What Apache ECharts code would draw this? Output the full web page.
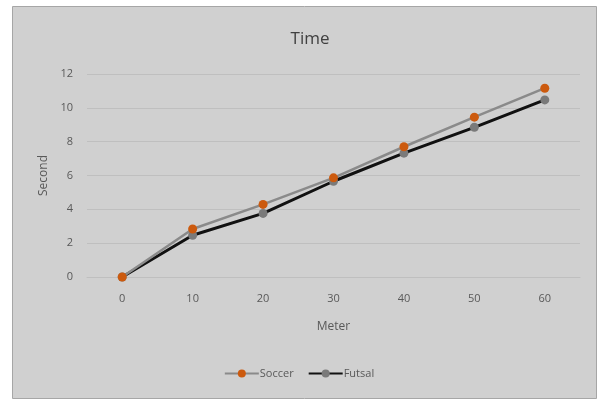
<!DOCTYPE html>
<html>
<head>
<meta charset="utf-8">
<script src="https://cdn.jsdelivr.net/npm/echarts@6/dist/echarts.min.js"></script>
<style>
  html, body { margin: 0; padding: 0; background: #ffffff; }
  #chart { width: 598px; height: 401px; }
</style>
</head>
<body>
<div id="chart"></div>
<script>
// Sprint times over distance
const meters = ['0', '10', '20', '30', '40', '50', '60'];
const soccer = [0, 2.84, 4.29, 5.86, 7.7, 9.45, 11.16];
const futsal = [0, 2.47, 3.76, 5.66, 7.32, 8.85, 10.47];
const yTicks = [0, 2, 4, 6, 8, 10, 12];

const labelFont = '"Open Sans", "Liberation Sans", sans-serif';
const textGray = '#595959';

const chart = echarts.init(document.getElementById('chart'), null, { renderer: 'canvas' });

chart.setOption({
  backgroundColor: '#ffffff',
  animation: false,
  graphic: [{
    type: 'rect',
    z: -10,
    shape: { x: 12.5, y: 6.5, width: 584, height: 392 },
    style: { fill: '#d0d0d0', stroke: '#a6a6a6', lineWidth: 1 }
  }],
  title: {
    text: 'Time',
    left: 305,
    top: 26,
    textAlign: 'center',
    textStyle: { fontFamily: labelFont, fontSize: 17, fontWeight: 'normal', color: '#404040' }
  },
  legend: {
    bottom: 17,
    left: 'center',
    itemWidth: 34,
    itemHeight: 10,
    itemGap: 14,
    textStyle: { fontFamily: labelFont, fontSize: 11, color: textGray, padding: [0, 0, 0, -4] },
    data: [
      { name: 'Soccer' },
      { name: 'Futsal' }
    ]
  },
  grid: { left: 87, right: 18, top: 74, bottom: 124, containLabel: false },
  xAxis: {
    type: 'category',
    data: meters,
    boundaryGap: true,
    name: 'Meter',
    nameLocation: 'middle',
    nameGap: 44,
    nameTextStyle: { fontFamily: labelFont, fontSize: 12, color: textGray },
    axisLine: { show: true, lineStyle: { color: '#bfbfbf', width: 1 } },
    axisTick: { show: false },
    axisLabel: { fontFamily: labelFont, fontSize: 11, color: textGray, margin: 16 }
  },
  yAxis: {
    type: 'value',
    min: 0,
    max: 12,
    interval: 2,
    name: 'Second',
    nameLocation: 'middle',
    nameGap: 35,
    nameTextStyle: { fontFamily: labelFont, fontSize: 12, color: textGray },
    axisLine: { show: false },
    axisTick: { show: false },
    axisLabel: {
      fontFamily: labelFont, fontSize: 11, color: textGray, margin: 14,
      formatter: v => (yTicks.includes(v) ? String(v) : '')
    },
    splitLine: { lineStyle: { color: '#bfbfbf', width: 1 } }
  },
  series: [
    {
      name: 'Soccer',
      type: 'line',
      data: soccer,
      symbol: 'circle',
      symbolSize: 9,
      z: 3,
      lineStyle: { color: '#8a8a8a', width: 2.5 },
      itemStyle: { color: '#cc5a0e', borderWidth: 0 }
    },
    {
      name: 'Futsal',
      type: 'line',
      data: futsal,
      symbol: 'circle',
      symbolSize: 9,
      z: 2,
      lineStyle: { color: '#111111', width: 3 },
      itemStyle: { color: '#7a7a7a', borderWidth: 0 }
    }
  ]
});
</script>
</body>
</html>
